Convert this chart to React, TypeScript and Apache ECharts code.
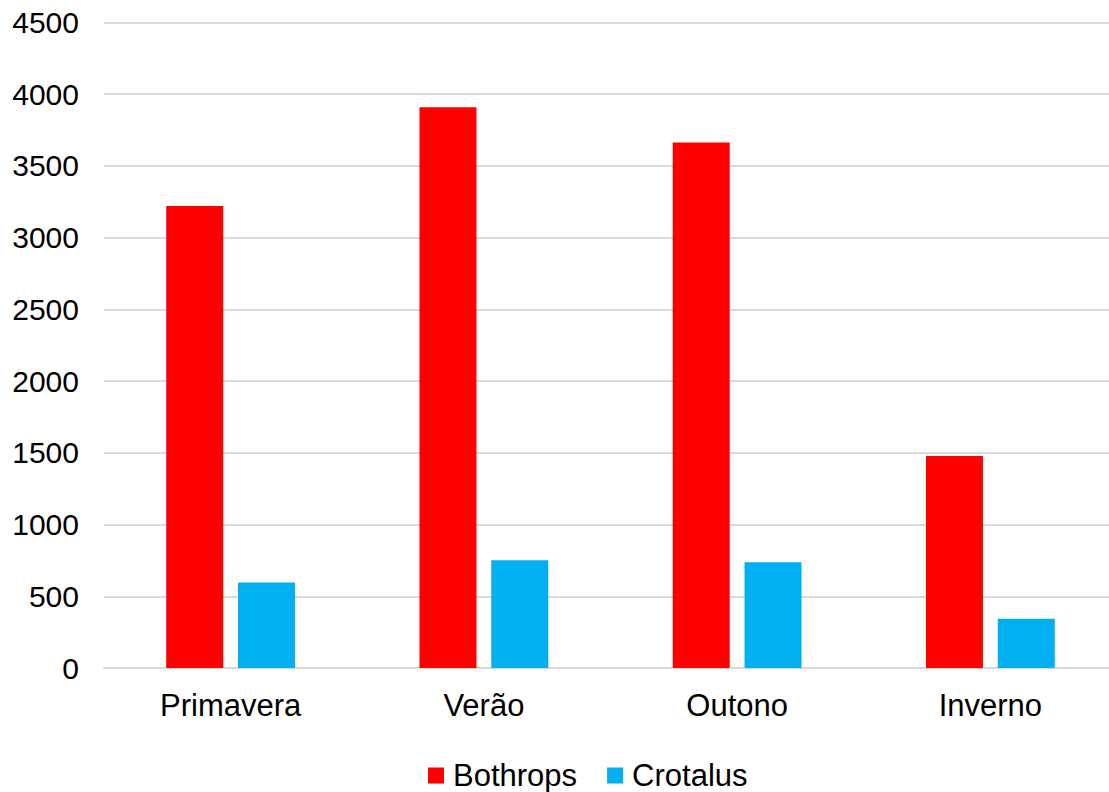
import React, { useEffect, useRef } from "react";
import * as echarts from "echarts";

const seasons = ["Primavera", "Verão", "Outono", "Inverno"];
const bothrops = [3220, 3910, 3663, 1478];
const crotalus = [596, 752, 737, 344];
const seriesNames = ["Bothrops", "Crotalus"];
const yTicks = { min: 0, max: 4500, interval: 500 };

const FONT = "'Liberation Sans', Arial, sans-serif";
const FS = 31;

export default function App() {
  const ref = useRef<HTMLDivElement>(null);

  useEffect(() => {
    if (!ref.current) return;
    const chart = echarts.init(ref.current, null, { renderer: "svg" });
    chart.setOption({
      animation: false,
      textStyle: { fontFamily: FONT },
      grid: {
        left: 104,
        top: 22.5,
        width: 1013,
        height: 645.5,
        containLabel: false,
        outerBoundsMode: "none",
      },
      legend: {
        data: seriesNames,
        left: 428,
        top: 760,
        padding: 0,
        itemWidth: 16,
        itemHeight: 16,
        itemGap: 30,
        icon: "rect",
        textStyle: { fontSize: FS, color: "#000", fontFamily: FONT, padding: [0, 0, 0, 4] },
      },
      xAxis: {
        type: "category",
        data: seasons,
        axisTick: { show: false },
        axisLine: { lineStyle: { color: "#d9d9d9", width: 2 } },
        axisLabel: { fontSize: FS, color: "#000", margin: 22, fontFamily: FONT },
      },
      yAxis: {
        type: "value",
        min: yTicks.min,
        max: yTicks.max,
        interval: yTicks.interval,
        axisLine: { show: false },
        axisTick: { show: false },
        splitLine: { lineStyle: { color: "#d9d9d9", width: 2 } },
        axisLabel: {
          fontSize: 30,
          color: "#000",
          margin: 25,
          fontFamily: FONT,
          formatter: (v: number) => String(v),
        },
      },
      series: [
        {
          name: seriesNames[0],
          type: "bar",
          data: bothrops,
          barWidth: 57,
          barGap: "26%",
          itemStyle: { color: "#FF0000" },
        },
        {
          name: seriesNames[1],
          type: "bar",
          data: crotalus,
          barWidth: 57,
          itemStyle: { color: "#00B0F0" },
        },
      ],
    });
    return () => chart.dispose();
  }, []);

  return (
    <div
      ref={ref}
      style={{ position: "fixed", left: 0, top: 0, width: 1109, height: 792, background: "#fff" }}
    />
  );
}
